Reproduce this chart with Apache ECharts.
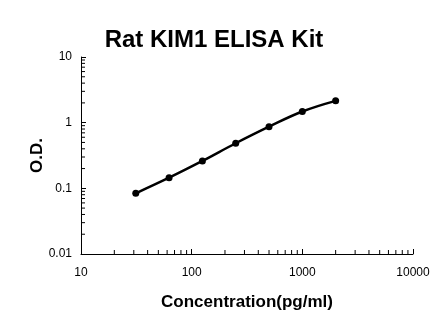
<!DOCTYPE html>
<html>
<head>
<meta charset="utf-8">
<script src="https://cdn.jsdelivr.net/npm/echarts@6/dist/echarts.min.js"></script>
<style>
html,body{margin:0;padding:0;background:#fff;}
#chart{width:446px;height:326px;}
</style>
</head>
<body>
<div id="chart"></div>
<script>
// Standard curve: concentration (pg/ml) vs optical density
const concentrations = [31.25, 62.5, 125, 250, 500, 1000, 2000];
const odValues = [0.084, 0.145, 0.261, 0.486, 0.869, 1.48, 2.15];

// Minor tick positions on the log axes
const xMinorTicks = [20, 30, 40, 50, 60, 70, 80, 90, 200, 300, 400, 500, 600, 700, 800, 900, 2000, 3000, 4000, 5000, 6000, 7000, 8000, 9000];
const yMinorTicks = [0.02, 0.03, 0.04, 0.05, 0.06, 0.07, 0.08, 0.09, 0.2, 0.3, 0.4, 0.5, 0.6, 0.7, 0.8, 0.9, 2, 3, 4, 5, 6, 7, 8, 9];

const FONT = '"Liberation Sans", Arial, sans-serif';

const chart = echarts.init(document.getElementById('chart'), null, {renderer: 'canvas'});

function minorTickRenderer(dir) {
  return function (params, api) {
    const p = api.coord([api.value(0), api.value(1)]);
    const len = 4;
    const shape = dir === 'x'
      ? {x1: p[0], y1: p[1], x2: p[0], y2: p[1] - len}
      : {x1: p[0], y1: p[1], x2: p[0] + len, y2: p[1]};
    return {type: 'line', shape: shape, style: {stroke: '#000', lineWidth: 1}};
  };
}

function plainNumber(v) {
  return String(+(+v).toPrecision(3));
}

chart.setOption({
  animation: false,
  backgroundColor: '#fff',
  graphic: [{
    type: 'text',
    x: 214,
    y: 40,
    style: {
      text: 'Rat KIM1 ELISA Kit',
      fontFamily: FONT, fontSize: 24, fontWeight: 'bold', fill: '#000',
      textAlign: 'center', textVerticalAlign: 'middle'
    }
  }],
  grid: {left: 81, right: 33, top: 57, bottom: 72},
  xAxis: {
    type: 'log',
    logBase: 10,
    min: 10,
    max: 10000,
    name: 'Concentration(pg/ml)',
    nameLocation: 'middle',
    nameGap: 40,
    nameMoveOverlap: false,
    nameTextStyle: {fontFamily: FONT, fontSize: 17, fontWeight: 'bold', color: '#000'},
    axisLine: {lineStyle: {color: '#000', width: 1}},
    axisTick: {inside: true, length: 5, lineStyle: {color: '#000'}},
    axisLabel: {fontFamily: FONT, fontSize: 12, color: '#000', margin: 13, formatter: plainNumber},
    splitLine: {show: false}
  },
  yAxis: {
    type: 'log',
    logBase: 10,
    min: 0.01,
    max: 10,
    name: 'O.D.',
    nameLocation: 'middle',
    nameGap: 35,
    nameMoveOverlap: false,
    nameRotate: 90,
    nameTextStyle: {fontFamily: FONT, fontSize: 17, fontWeight: 'bold', color: '#000'},
    axisLine: {show: true, lineStyle: {color: '#000', width: 1}},
    axisTick: {show: true, inside: true, length: 5, lineStyle: {color: '#000'}},
    axisLabel: {fontFamily: FONT, fontSize: 12, color: '#000', margin: 9, formatter: plainNumber},
    splitLine: {show: false}
  },
  series: [
    {
      type: 'custom',
      renderItem: minorTickRenderer('x'),
      data: xMinorTicks.map(v => [v, 0.01]),
      clip: false,
      silent: true,
      z: 1
    },
    {
      type: 'custom',
      renderItem: minorTickRenderer('y'),
      data: yMinorTicks.map(v => [10, v]),
      clip: false,
      silent: true,
      z: 1
    },
    {
      type: 'line',
      data: concentrations.map((c, i) => [c, odValues[i]]),
      smooth: 0.4,
      symbol: 'circle',
      symbolSize: 7,
      lineStyle: {color: '#000', width: 2.5},
      itemStyle: {color: '#000'},
      z: 3
    }
  ]
});
</script>
</body>
</html>
